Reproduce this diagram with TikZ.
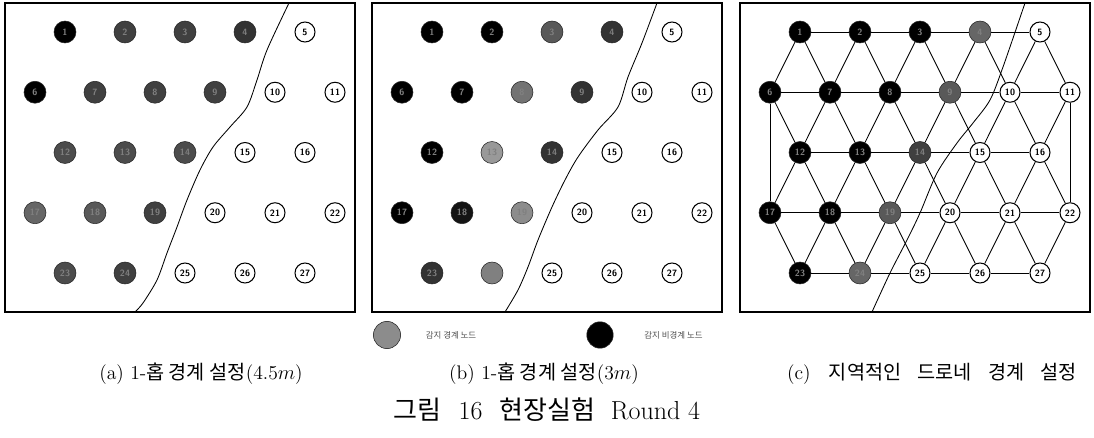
\documentclass[tikz,border=0pt]{standalone}
\usepackage{fontspec}
\newfontfamily\kr{Noto Sans CJK KR}
\usetikzlibrary{positioning}

\begin{document}
\begin{tikzpicture}[x=0.025cm, y=-0.025cm,
    frame/.style={draw, line width=1.1pt},
    wnode/.style={circle, draw, line width=0.75pt, fill=white,
                  minimum size=0.5cm, inner sep=0pt,
                  font=\fontsize{6.5}{7}\selectfont\sffamily\bfseries},
    snode/.style={circle, draw=black!85, line width=0.4pt,
                  minimum size=0.55cm, inner sep=0pt, text=black!50,
                  font=\fontsize{6.5}{7}\selectfont\sffamily\bfseries},
    edge/.style={line width=0.6pt},
    bline/.style={line width=0.6pt},
    captxt/.style={font=\fontsize{14}{16}\selectfont},
    ttltxt/.style={font=\fontsize{18.5}{20}\selectfont},
    legtext/.style={font=\kr\fontsize{6}{7}\selectfont, text=black!70}
  ]
  \useasboundingbox (0,0) rectangle (1094,438);
  % Panel frames
  \foreach \dx in {5,372,740}
    \draw[frame] (\dx,3) rectangle ++(350,309);
  % Grid positions
  \foreach \p/\dx in {a/5,b/372,c/740} {
    \foreach \r/\first/\last/\ox in {1/1/5/60, 2/6/11/30, 3/12/16/60, 4/17/22/30, 5/23/27/60} {
      \foreach \n in {\first,...,\last}
        \coordinate (\p p\n) at ({\dx+\ox+60*(\n-\first)}, {32+60.25*(\r-1)});
    }
  }
  % Boundary lines
  \draw[bline] plot[smooth] coordinates {(289,3) (267,50) (257,80) (247,107)
    (230,127) (213,147) (200,170) (187,200) (177,227) (167,253) (157,280)
    (143,303) (135,312)};
  \draw[bline] plot[smooth] coordinates {(657,3) (642,43) (628,77) (618,107)
    (598,130) (578,157) (565,180) (552,207) (538,240) (528,267) (518,290)
    (505,312)};
  \draw[bline] plot[smooth] coordinates {(1025,3) (1003,67) (990,100)
    (973,123) (957,143) (937,173) (920,213) (907,240) (890,273) (872,312)};
  % Undetected nodes
  \foreach \p in {a,b,c} {
    \foreach \n in {5,10,11,15,16,20,21,22,25,26,27}
      \node[wnode] (\p\n) at (\p p\n) {\n};
  }
  % Panel (a): 1-hop, 4.5m
  \foreach \n/\f in {1/black, 2/black!75, 3/black!75, 4/black!80, 6/black,
      7/black!75, 8/black!75, 9/black!75, 12/black!70, 13/black!70,
      14/black!70, 17/black!60, 18/black!65, 19/black!75, 23/black!70,
      24/black!75}
    \node[snode, fill=\f] (a\n) at (ap\n) {\n};
  % Panel (b): 1-hop, 3m
  \foreach \n/\f in {1/black, 2/black, 3/black!65, 4/black!80, 6/black,
      7/black, 8/black!55, 9/black!80, 12/black, 13/black!40, 14/black!80,
      17/black, 18/black!92, 19/black!45, 23/black!80, 24/black!50}
    \node[snode, fill=\f] (b\n) at (bp\n) {\n};
  % Panel (c): local Delaunay
  \foreach \n/\f in {1/black, 2/black, 3/black, 4/black!60, 6/black,
      7/black, 8/black, 9/black!65, 12/black, 13/black, 14/black!75,
      17/black, 18/black, 19/black!65, 23/black, 24/black!60}
    \node[snode, fill=\f] (c\n) at (cp\n) {\n};
  % Delaunay edges
  \foreach \a/\b in {1/2,2/3,3/4,4/5,6/7,7/8,8/9,9/10,10/11,12/13,13/14,
      14/15,15/16,17/18,18/19,19/20,20/21,21/22,23/24,24/25,25/26,26/27,
      6/17,11/22}
    \draw[edge] (c\a) -- (c\b);
  \foreach \n [evaluate=\n as \s using int(\n+5),
               evaluate=\n as \t using int(\n+6)] in {1,2,3,4,5,12,13,14,15,16} {
    \draw[edge] (c\n) -- (c\s);
    \draw[edge] (c\n) -- (c\t);
  }
  \foreach \n [evaluate=\n as \s using int(\n+5)] in {7,8,9,10,11,18,19,20,21,22}
    \draw[edge] (c\n) -- (c\s);
  \foreach \n [evaluate=\n as \t using int(\n+6)] in {6,7,8,9,10,17,18,19,20,21}
    \draw[edge] (c\n) -- (c\t);
  % Legend
  \node[snode, fill=black!45, minimum size=0.68cm] (lgb) at (387,335) {};
  \node[legtext, right=0.5cm of lgb] (lgbt) {감지 경계 노드};
  \node[snode, fill=black, minimum size=0.66cm] (lgn) at (600,335) {};
  \node[legtext, right=0.65cm of lgn] (lgnt) {감지 비경계 노드};
  % Captions
  \node[captxt] (capa) at (201,374) {(a) 1-{\kr 홉 경계 설정}(4.5$m$)};
  \node[captxt] (capb) at (544,374) {(b) 1-{\kr 홉 경계 설정}(3$m$)};
  \node[captxt] (capc) at (932,374) {(c)\hspace{0.6em} {\kr 지역적인\hspace{0.6em} 드로네\hspace{0.6em} 경계\hspace{0.6em} 설정}};
  \node[ttltxt] (title) at (547,410) {{\kr 그림}\hspace{0.35em} 16\hspace{0.35em} {\kr 현장실험}\hspace{0.3em} Round 4};
\end{tikzpicture}
\end{document}
